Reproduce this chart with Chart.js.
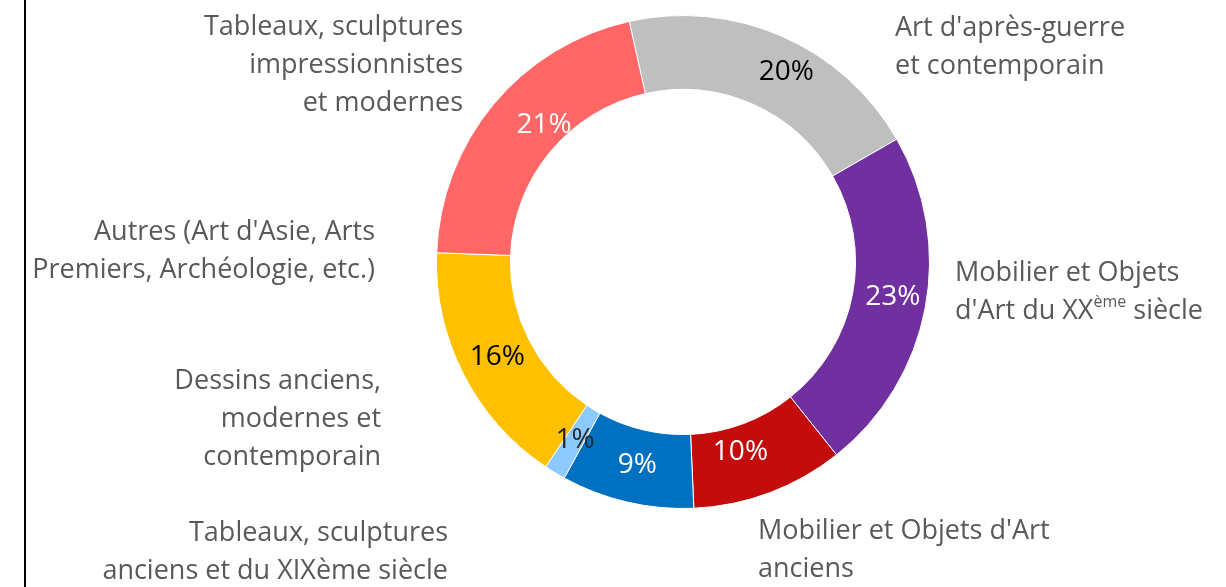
<!DOCTYPE html>
<html lang="fr">
<head>
<meta charset="utf-8">
<title>Répartition par spécialité</title>
<script src="https://cdn.jsdelivr.net/npm/chart.js@4.4.1/dist/chart.umd.min.js"></script>
<style>
  html, body { margin: 0; padding: 0; background: #fff; }
  #wrap { position: relative; width: 1226px; height: 587px; }
  #edge { position: absolute; left: 24px; top: 0; width: 2px; height: 587px; background: #000; }
</style>
</head>
<body>
<div id="wrap">
  <canvas id="chart" width="1226" height="587"></canvas>
  <div id="edge"></div>
</div>
<script>
// categories, clockwise from the top
const categories = [
  "Art d'après-guerre et contemporain",
  "Mobilier et Objets d'Art du XXème siècle",
  "Mobilier et Objets d'Art anciens",
  "Tableaux, sculptures anciens et du XIXème siècle",
  "Dessins anciens, modernes et contemporain",
  "Autres (Art d'Asie, Arts Premiers, Archéologie, etc.)",
  "Tableaux, sculptures impressionnistes et modernes"
];
// share of each category, in percent
const shares = [20.2, 22.6, 10.0, 8.7, 1.4, 16.2, 20.9];
// how the outside labels break into lines ({...} = superscript)
const labelLines = [
  ["Art d'après-guerre", "et contemporain"],
  ["Mobilier et Objets", "d'Art du XX{ème} siècle"],
  ["Mobilier et Objets d'Art", "anciens"],
  ["Tableaux, sculptures", "anciens et du XIXème siècle"],
  ["Dessins anciens,", "modernes et", "contemporain"],
  ["Autres (Art d'Asie, Arts", "Premiers, Archéologie, etc.)"],
  ["Tableaux, sculptures", "impressionnistes", "et modernes"]
];

const colors = ['#BFBFBF', '#7030A0', '#C40C0C', '#0070C0', '#8BC9FF', '#FFC000', '#FF6666'];
const pctColors = ['#000', '#fff', '#fff', '#fff', '#262626', '#000', '#fff'];
// outside label anchors, relative to the ring centre
const labelPos = [
  { dx: 212, dy: -234, align: 'left' },
  { dx: 272, dy: 11, align: 'left' },
  { dx: 75, dy: 269, align: 'left' },
  { dx: -235, dy: 271, align: 'right' },
  { dx: -302, dy: 119, align: 'right' },
  { dx: -308, dy: -30, align: 'right' },
  { dx: -220, dy: -235, align: 'right' }
];
const pctNudge = [[19, 2], [4, -4], [-16, -6], [2, -1], [1, -1], [1, 0], [22, -3]];

const FONT = '"Open Sans", Lato, sans-serif';
const LINE_H = 38;

function drawRich(ctx, text, x, y, align, size) {
  const parts = [];
  const re = /\{([^}]*)\}/g;
  let last = 0, m;
  while ((m = re.exec(text))) {
    if (m.index > last) parts.push({ t: text.slice(last, m.index), sup: false });
    parts.push({ t: m[1], sup: true });
    last = re.lastIndex;
  }
  if (last < text.length) parts.push({ t: text.slice(last), sup: false });
  const fontFor = p => (p.sup ? Math.round(size * 0.6) : size) + 'px ' + FONT;
  let total = 0;
  parts.forEach(p => { ctx.font = fontFor(p); p.w = ctx.measureText(p.t).width; total += p.w; });
  let cx = align === 'right' ? x - total : x;
  ctx.textAlign = 'left';
  parts.forEach(p => {
    ctx.font = fontFor(p);
    ctx.fillText(p.t, cx, p.sup ? y - size * 0.3 : y);
    cx += p.w;
  });
}

const labelsPlugin = {
  id: 'labels',
  afterDatasetsDraw(chart) {
    const ctx = chart.ctx;
    const meta = chart.getDatasetMeta(0);
    const arc0 = meta.data[0];
    const cx = arc0.x, cy = arc0.y;
    ctx.save();
    ctx.textBaseline = 'middle';
    // percentages inside the ring
    meta.data.forEach((arc, i) => {
      const p = arc.tooltipPosition();
      ctx.font = '28px ' + FONT;
      ctx.fillStyle = pctColors[i];
      ctx.textAlign = 'center';
      ctx.fillText(Math.round(shares[i]) + '%', p.x + pctNudge[i][0], p.y + pctNudge[i][1]);
    });
    // category labels outside
    ctx.fillStyle = '#595959';
    labelLines.forEach((lines, i) => {
      const pos = labelPos[i];
      lines.forEach((line, j) => {
        drawRich(ctx, line, cx + pos.dx, cy + pos.dy + j * LINE_H, pos.align, 27);
      });
    });
    ctx.restore();
  }
};

new Chart(document.getElementById('chart'), {
  type: 'doughnut',
  data: {
    labels: categories,
    datasets: [{
      data: shares,
      backgroundColor: colors,
      borderColor: '#fff',
      borderWidth: 1
    }]
  },
  options: {
    responsive: false,
    animation: false,
    rotation: -12.6,
    cutout: '70%',
    layout: { padding: { left: 436, right: 296, top: 15, bottom: 78 } },
    plugins: { legend: { display: false }, tooltip: { enabled: false } }
  },
  plugins: [labelsPlugin]
});
</script>
</body>
</html>
